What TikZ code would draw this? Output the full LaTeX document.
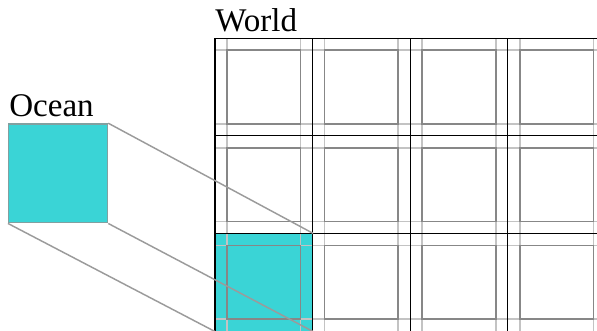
\documentclass[tikz,border=0pt]{standalone}
\usepackage{fontspec}
\setmainfont{Liberation Serif}
\definecolor{oceancyan}{RGB}{58,212,214}
\definecolor{lightline}{RGB}{195,195,195}
\definecolor{midline}{RGB}{135,135,135}
\definecolor{linkgray}{RGB}{155,155,155}
\definecolor{oceanedge}{RGB}{130,160,160}
\begin{document}
\begin{tikzpicture}[x=0.75pt,y=-0.75pt,
  label text/.style={font=\fontsize{24.8}{28}\selectfont, inner sep=0pt, anchor=base west},
  blackline/.style={draw=black, line width=1pt},
  lightgrid/.style={draw=lightline, line width=1.1pt},
  innersq/.style={draw=midline, line width=1.1pt},
  linkline/.style={draw=linkgray, line width=1.1pt},
  oceanbox/.style={rectangle, fill=oceancyan, draw=oceanedge, line width=1pt, inner sep=0pt, anchor=north west},
  cellbox/.style={rectangle, fill=oceancyan, inner sep=0pt, anchor=north west, minimum width=73.2pt, minimum height=73.2pt}]
\useasboundingbox (0,0) rectangle (597,330);
\begin{scope}
\clip (0,0) rectangle (597,330);
% highlighted cell
\node[cellbox] (cell) at (215,233.4) {};
% light full-length lines
\foreach \i in {0,...,3} {
  \draw[lightgrid] ({215+97.6*\i+12},38.2) -- ({215+97.6*\i+12},335);
  \draw[lightgrid] ({215+97.6*\i+85.6},38.2) -- ({215+97.6*\i+85.6},335);
}
\foreach \j in {0,...,2} {
  \draw[lightgrid] (215,{38.2+97.6*\j+12}) -- (600,{38.2+97.6*\j+12});
  \draw[lightgrid] (215,{38.2+97.6*\j+85.6}) -- (600,{38.2+97.6*\j+85.6});
}
% inner squares
\foreach \i in {0,...,3} {
  \foreach \j in {0,...,2} {
    \draw[innersq] ({215+97.6*\i+12},{38.2+97.6*\j+12}) rectangle ({215+97.6*\i+85.6},{38.2+97.6*\j+85.6});
  }
}
% black grid lines
\foreach \i in {0,...,3} {
  \draw[blackline] ({215+97.6*\i},38.2) -- ({215+97.6*\i},335);
}
\foreach \j in {0,...,2} {
  \draw[blackline] (215,{38.2+97.6*\j}) -- (600,{38.2+97.6*\j});
}
\end{scope}
% ocean box
\node[oceanbox, minimum width=74.2pt, minimum height=74.2pt] (ocean) at (8,123.2) {};
% labels
\node[label text] (world) at (215,31) {World};
\node[label text] (oceanlabel) at (9,116.5) {Ocean};
% connectors
\begin{scope}
\clip (0,0) rectangle (597,330);
\draw[linkline] (ocean.north east) -- (cell.north east);
\draw[linkline] (ocean.south east) -- (cell.south east);
\draw[linkline] (ocean.south west) -- (cell.south west);
\end{scope}
\end{tikzpicture}
\end{document}
